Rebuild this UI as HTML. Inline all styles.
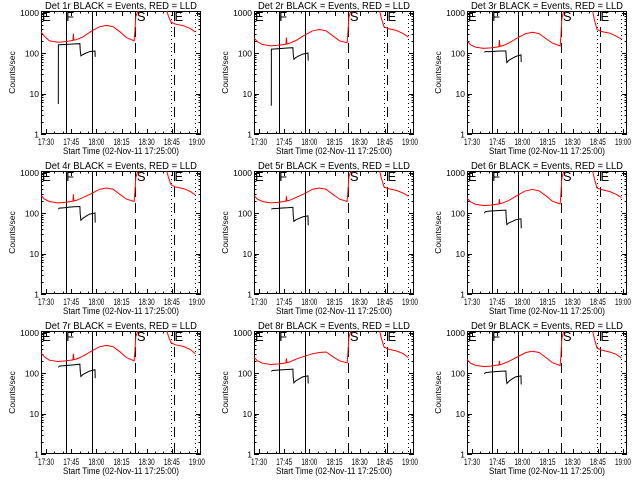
<!DOCTYPE html>
<html><head><meta charset="utf-8"><style>
html,body{margin:0;padding:0;background:#fff}
svg{display:block}
text{font-family:"Liberation Sans",sans-serif;fill:#000}
</style></head><body>
<svg id="c" width="640" height="480" viewBox="0 0 640 480" xmlns="http://www.w3.org/2000/svg"></svg>
<script>
const xDomain = [27, 122.4];
const xTickMins = [30, 45, 60, 75, 90, 105, 120];
const xTickLabels = ["17:30", "17:45", "18:00", "18:15", "18:30", "18:45", "19:00"];
const yTickVals = [1, 10, 100, 1000];
const yTickLabels = ["1", "10", "100", "1000"];
const panelTitles = ["Det 1r","Det 2r","Det 3r","Det 4r","Det 5r","Det 6r","Det 7r","Det 8r","Det 9r"];
const redTimesA = [27,29,32,37,41,44,46,46.3,46.6,48,52,57,62,66,70,74,78,82.5,83,83.5,84.5,85.5];
const redTimesB = [101.5,103,104.5,107,112,116,119];
const red1 = [330,260,200,185,190,198,204,300,207,213,250,345,445,480,445,335,240,200,340,800,1000,1200];
const red2 = [235,190,162,150,155,160,165,240,168,173,203,274,353,380,353,266,200,180,306,750,1000,1200];
const red3 = [200,160,140,130,134,139,143,210,146,150,176,234,302,325,302,228,175,150,255,700,1000,1200];
const red4 = [270,220,192,178,183,190,196,290,199,205,240,300,386,415,386,290,220,192,326,760,1000,1200];
const red5 = [270,220,192,178,183,190,196,260,199,205,240,300,386,415,386,290,220,192,326,760,1000,1200];
const red6 = [235,190,164,152,157,163,167,220,170,175,205,274,353,380,353,266,195,168,290,720,1000,1200];
const red7 = [315,250,207,192,198,205,211,300,214,221,260,345,445,480,445,336,240,200,340,800,1000,1200];
const red8 = [245,200,175,162,167,173,178,230,181,186,219,259,300,320,330,252,200,178,300,740,1000,1200];
const red9 = [215,175,155,144,148,154,158,200,161,166,194,248,320,345,320,242,180,152,260,700,1000,1200];
const redB1 = [1300,800,580,520,470,400,330];
const redB2 = [1300,700,445,400,360,300,250];
const redB3 = [1300,650,380,340,310,260,220];
const redB4 = [1300,750,500,440,400,340,280];
const redB5 = [1300,700,440,400,360,310,260];
const redB6 = [1300,680,415,380,340,290,240];
const redB7 = [1300,800,560,500,450,380,300];
const redB8 = [1300,700,440,390,350,300,240];
const redB9 = [1300,680,415,370,330,290,235];
const blackTimes = [37.3,37.4,38,41,44,47,50.2,50.4,50.8,52,54,56,59.2,59.3];
const black1 = [5.5,160,160,162,165,168,170,120,85,92,100,108,112,80];
const black2 = [5,125,125,128,130,133,135,95,70,78,86,94,100,65];
const black3 = [105,105,108,108,110,112,112,80,58,66,74,82,90,60];
const black4 = [125,125,132,135,140,143,145,95,66,74,84,94,100,58];
const black5 = [125,125,128,130,133,135,138,90,62,68,74,80,85,50];
const black6 = [100,100,108,112,114,116,118,75,52,57,62,68,72,42];
const black7 = [140,140,148,152,156,160,165,115,82,92,102,112,120,75];
const black8 = [110,110,115,118,120,122,125,80,57,64,72,80,85,55];
const black9 = [95,95,102,106,108,110,112,78,55,62,72,80,85,52];
const eventTimes = [41.7, 57.6, 83.2, 104.5, 106.3, 118.8];
const eventStyles = ["solid","solid","dash","dot","dash","dot"];
const eventLetters = [["E",27.6],["F",42.0],["S",84.2],["E",106.6]];

const reds=[red1,red2,red3,red4,red5,red6,red7,red8,red9];
const redBs=[redB1,redB2,redB3,redB4,redB5,redB6,redB7,redB8,redB9];
const blacks=[black1,black2,black3,black4,black5,black6,black7,black8,black9];
const svg=document.getElementById('c');
const NS="http://www.w3.org/2000/svg";
function mk(tag,attrs,parent){const e=document.createElementNS(NS,tag);for(const k in attrs)e.setAttribute(k,attrs[k]);parent.appendChild(e);return e;}

for(let p=0;p<9;p++){
  const ox=[0,213,426][p%3], oy=[0,160,320][Math.floor(p/3)];
  const L=ox+41,R=ox+201,T=oy+11,B=oy+134;
  const xs=m=>L+(m-xDomain[0])/(xDomain[1]-xDomain[0])*(R-L);
  const ys=v=>B-Math.log10(v)*40.5;
  const g=mk('g',{},svg);
  
  
  const cid='clip'+p;
  const cp=mk('clipPath',{id:cid},g);mk('rect',{x:L,y:T,width:R-L,height:B-T},cp);
  const t=mk('text',{x:(L+R)/2,y:oy+9,'text-anchor':'middle','font-size':'10','textLength':'152','lengthAdjust':'spacingAndGlyphs'},g);
  t.textContent=panelTitles[p]+" BLACK = Events, RED = LLD";
  
  
  const fr=mk('rect',{x:L+0.5,y:T+0.5,width:R-L-1,height:B-T-1,fill:'none',stroke:'#000','stroke-width':1},g);
  
  
  for(let d=0;d<4;d++){
    for(let k=1;k<10;k++){
      const v=Math.pow(10,d)*k; if(v>1100) break;
      const y=Math.round(ys(v))+0.5; const len=k===1?5:2.5;
      mk('line',{x1:L,x2:L+len,y1:y,y2:y,stroke:'#000'},g);
      mk('line',{x1:R-len,x2:R,y1:y,y2:y,stroke:'#000'},g);
    }
  }
  yTickVals.forEach((v,i)=>{
    const tl=mk('text',{x:L-2,y:ys(v)+3.5,'text-anchor':'end','font-size':'8.5'},g);
    tl.textContent=yTickLabels[i];
    
    
  });
  for(let m=30;m<=122;m+=5){
    const x=Math.round(xs(m))+0.5; const maj=(m%15===0);const len=maj?5:2.5;
    mk('line',{x1:x,x2:x,y1:B,y2:B-len,stroke:'#000'},g);
    mk('line',{x1:x,x2:x,y1:T,y2:T+len,stroke:'#000'},g);
  }
  xTickMins.forEach((m,i)=>{
    const tl=mk('text',{x:xs(m),y:B+11,'text-anchor':'middle','font-size':'9.5','textLength':'16','lengthAdjust':'spacingAndGlyphs'},g);
    tl.textContent=xTickLabels[i];
    
    
  });
  const xt=mk('text',{x:(L+R)/2,y:B+20,'text-anchor':'middle','font-size':'9','textLength':'116','lengthAdjust':'spacingAndGlyphs'},g);
  xt.textContent="Start Time (02-Nov-11 17:25:00)";
  
  
  const yt=mk('text',{x:0,y:0,'text-anchor':'middle','font-size':'8.5',transform:`translate(${ox+15},${(T+B)/2}) rotate(-90)`},g);
  yt.textContent="Counts/sec";
  
  
  eventTimes.forEach((m,i)=>{
    const x=Math.round(xs(m))+0.5;
    const st=eventStyles[i];
    const a={x1:x,x2:x,y1:T,y2:B,stroke:'#000','stroke-width':1};
    if(st==='dash')a['stroke-dasharray']='10,6';
    if(st==='dot')a['stroke-dasharray']='1,3';
    const ln=mk('line',a,g);
    
    
  });
  eventLetters.forEach(([s,m])=>{
    const tl=mk('text',{x:xs(m),y:T+10,'font-size':'13'},g);
    tl.textContent=s;
    
    
  });
  const pts=(ts,vs)=>ts.map((m,i)=>xs(m).toFixed(1)+','+ys(vs[i]).toFixed(1)).join(' ');
  const ra=mk('polyline',{points:pts(redTimesA,reds[p]),fill:'none',stroke:'#ff0000','stroke-width':1,'clip-path':`url(#${cid})`},g);
  
  
  const rb=mk('polyline',{points:pts(redTimesB,redBs[p]),fill:'none',stroke:'#ff0000','stroke-width':1,'clip-path':`url(#${cid})`},g);
  
  
  const bl=mk('polyline',{points:pts(blackTimes,blacks[p]),fill:'none',stroke:'#000','stroke-width':1,'clip-path':`url(#${cid})`},g);
  
  
}
</script>
</body></html>
